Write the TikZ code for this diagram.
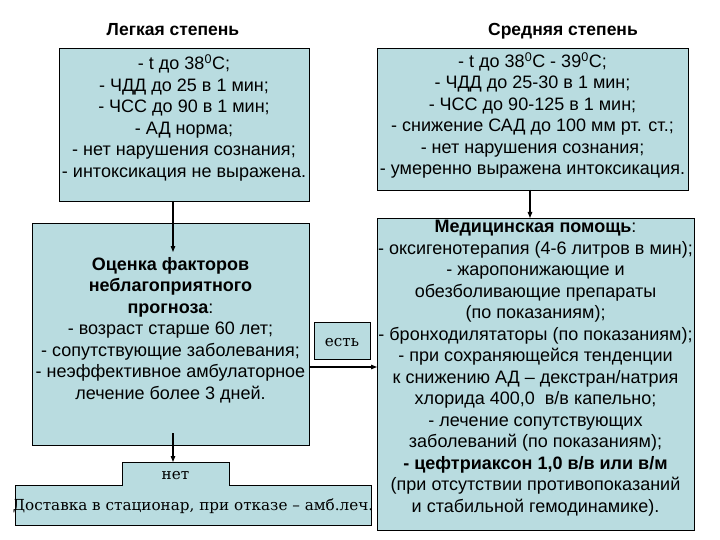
\documentclass[tikz,border=0pt]{standalone}
\usepackage{fontspec}
\setmainfont{Liberation Sans}
\newfontfamily\serifcyr{DejaVu Serif}
\usetikzlibrary{arrows.meta}
\definecolor{boxfill}{RGB}{185,220,224}
\begin{document}
\begin{tikzpicture}[x=1pt,y=-1pt,
  box/.style={draw=black, line width=0.9pt, fill=boxfill, inner sep=0pt, outer sep=0pt},
  fillonly/.style={fill=boxfill, inner sep=0pt, outer sep=0pt},
  txt/.style={inner sep=0pt, align=center, font=\fontsize{18}{21.5}\selectfont},
  ttl/.style={inner sep=0pt, anchor=base, font=\fontsize{17.5}{20}\selectfont\bfseries},
  sertxt/.style={inner sep=0pt, anchor=base, font=\serifcyr\fontsize{15.2}{18}\selectfont},
  arr/.style={-{Triangle[length=6pt,width=4.5pt]}, line width=1.1pt}]
\useasboundingbox (0,0) rectangle (720,540);
\fill[white] (0,0) rectangle (720,540);

% titles
\node[ttl] (tl) at (173,36) {Легкая степень};
\node[ttl] (tr) at (563,36) {Средняя степень};

% boxes
\node[box, minimum width=250pt, minimum height=153pt] (lbox) at (184,124.5) {};
\node[box, minimum width=311pt, minimum height=142pt] (rbox) at (532.5,119) {};
\node[box, minimum width=277pt, minimum height=222pt] (abox) at (170.5,334) {};
\node[box, minimum width=317pt, minimum height=312pt] (mbox) at (535.5,374) {};
\node[box, minimum width=56pt, minimum height=37pt] (ybox) at (342,340.5) {};
\node[box, minimum width=356pt, minimum height=40pt] (dbox) at (193,505) {};
\node[fillonly, minimum width=107pt, minimum height=24pt] (nbox) at (175.5,474) {};
\draw[line width=0.9pt] (nbox.south west) -- (nbox.north west) -- (nbox.north east) -- (nbox.south east);

% texts
\node[txt] (ltext) at (184,118) {- t до 38\textsuperscript{0}С;\\- ЧДД до 25 в 1 мин;\\- ЧСС до 90 в 1 мин;\\- АД норма;\\- нет нарушения сознания;\\- интоксикация не выражена.};
\node[txt] (rtext) at (532.5,115.5) {- t до 38\textsuperscript{0}С - 39\textsuperscript{0}С;\\- ЧДД до 25-30 в 1 мин;\\- ЧСС до 90-125 в 1 мин;\\- снижение САД до 100 мм рт. ст.;\\- нет нарушения сознания;\\- умеренно выражена интоксикация.};
\node[txt] (atext) at (170.5,330) {\textbf{Оценка факторов}\\\textbf{неблагоприятного}\\\textbf{прогноза}:\\- возраст старше 60 лет;\\- сопутствующие заболевания;\\- неэффективное амбулаторное\\лечение более 3 дней.};
\node[txt] (mtext) at (535.5,368) {\textbf{Медицинская помощь}:\\- оксигенотерапия (4-6 литров в мин);\\- жаропонижающие и\\обезболивающие препараты\\(по показаниям);\\- бронходилятаторы (по показаниям);\\- при сохраняющейся тенденции\\к снижению АД – декстран/натрия\\хлорида 400,0~ в/в капельно;\\- лечение сопутствующих\\заболеваний (по показаниям);\\\textbf{- цефтриаксон 1,0 в/в или в/м}\\(при отсутствии противопоказаний\\и стабильной гемодинамике).};
\node[sertxt] (ytext) at (342,346) {есть};
\node[sertxt] (ntext) at (175.5,479) {нет};
\node[sertxt] (dtext) at (193,510) {Доставка в стационар, при отказе – амб.леч.};

% connectors
\coordinate (c1) at (173,252);
\draw[arr] (c1 |- lbox.south) -- (c1);
\coordinate (c2) at (530,0);
\draw[arr] (c2 |- rbox.south) -- (c2 |- mbox.north);
\coordinate (c3) at (173,433);
\draw[arr] (c3) -- (c3 |- nbox.north);
\coordinate (c4) at (0,367);
\draw[arr] (c4 -| abox.east) -- (c4 -| mbox.west);
\end{tikzpicture}
\end{document}
